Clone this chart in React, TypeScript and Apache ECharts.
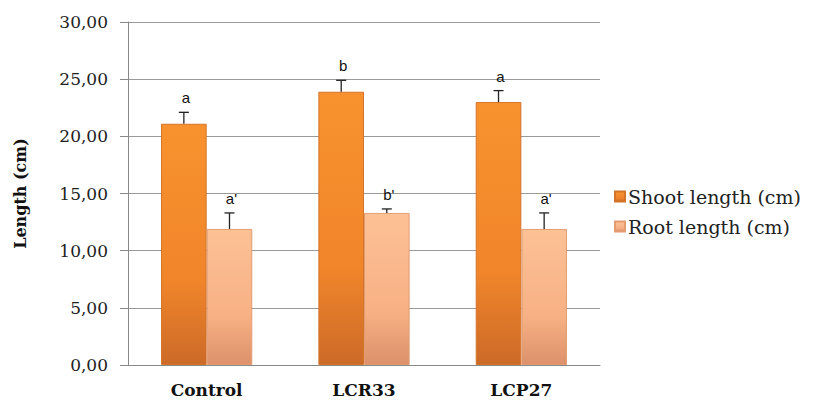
import React, { useEffect, useRef } from "react";
import * as echarts from "echarts";

const categories = ["Control", "LCR33", "LCP27"];
const shootValues = [21.1, 23.9, 23.0];
const shootErrors = [1.0, 1.0, 1.0];
const shootLetters = ["a", "b", "a"];
const rootValues = [11.9, 13.3, 11.9];
const rootErrors = [1.4, 0.35, 1.4];
const rootLetters = ["a'", "b'", "a'"];
const yTicks = [0, 5, 10, 15, 20, 25, 30];

const CAT_GAP = 0.42;

function errorSeries(name: string, values: number[], errors: number[], letters: string[], side: number) {
  return {
    type: "custom",
    name: name + "_err",
    silent: true,
    z: 5,
    data: values.map((v, i) => [i, v, v + errors[i], letters[i]]),
    renderItem: (params: any, api: any) => {
      const idx = api.value(0);
      const band = api.size([1, 0])[0];
      const barW = (band * (1 - CAT_GAP)) / 2;
      const base = api.coord([idx, api.value(1)]);
      const top = api.coord([idx, api.value(2)]);
      const x = base[0] + (side * barW) / 2;
      const cap = 5;
      return {
        type: "group",
        children: [
          { type: "line", shape: { x1: x, y1: base[1], x2: x, y2: top[1] }, style: { stroke: "#222", lineWidth: 1.3 } },
          { type: "line", shape: { x1: x - cap, y1: top[1], x2: x + cap, y2: top[1] }, style: { stroke: "#222", lineWidth: 1.3 } },
          {
            type: "text",
            style: {
              x: x + 2,
              y: top[1] - 7,
              text: letters[idx],
              fill: "#111",
              font: "15px 'Liberation Sans', Arial, sans-serif",
              align: "center",
              verticalAlign: "bottom",
            },
          },
        ],
      };
    },
  };
}

export default function App() {
  const ref = useRef<HTMLDivElement>(null);
  useEffect(() => {
    if (!ref.current) return;
    const chart = echarts.init(ref.current, undefined, { renderer: "svg" });
    const shootGrad = new echarts.graphic.LinearGradient(0, 0, 0, 1, [
      { offset: 0, color: "#F8922E" },
      { offset: 0.65, color: "#F0852A" },
      { offset: 1, color: "#CC6A28" },
    ]);
    const rootGrad = new echarts.graphic.LinearGradient(0, 0, 0, 1, [
      { offset: 0, color: "#FDC196" },
      { offset: 0.65, color: "#F7B084" },
      { offset: 1, color: "#DC916A" },
    ]);
    chart.setOption({
      animation: false,
      backgroundColor: "#fff",
      textStyle: { fontFamily: "'DejaVu Serif', serif" },
      grid: { left: 128, right: 215, top: 22, bottom: 38 },
      legend: {
        orient: "vertical",
        left: 609,
        top: 182,
        itemWidth: 10,
        itemHeight: 10,
        itemGap: 11,
        icon: "rect",
        textStyle: { fontFamily: "'DejaVu Serif', serif", fontSize: 19, color: "#222", padding: [0, 0, 0, -2] },
        data: ["Shoot length (cm)", "Root length (cm)"],
      },
      xAxis: {
        type: "category",
        data: categories,
        axisLine: { lineStyle: { color: "#888" } },
        axisTick: { show: false },
        axisLabel: { fontFamily: "'DejaVu Serif', serif", fontWeight: "bold", fontSize: 17, color: "#111", margin: 16 },
      },
      yAxis: {
        type: "value",
        min: 0,
        max: 30,
        interval: 5,
        name: "Length (cm)",
        nameLocation: "middle",
        nameGap: 100,
        nameTextStyle: { fontFamily: "'DejaVu Serif', serif", fontWeight: "bold", fontSize: 16, color: "#111" },
        axisLine: { show: true, lineStyle: { color: "#888" } },
        axisTick: { show: true, inside: false, length: 8, lineStyle: { color: "#888" } },
        splitLine: { lineStyle: { color: "#999", width: 1 } },
        axisLabel: {
          fontFamily: "'DejaVu Serif', serif",
          fontSize: 17,
          color: "#222",
          margin: 20,
          formatter: (v: number) => (yTicks.includes(v) ? v.toFixed(2).replace(".", ",") : ""),
        },
      },
      series: [
        {
          type: "bar",
          name: "Shoot length (cm)",
          data: shootValues,
          barGap: "0%",
          barCategoryGap: CAT_GAP * 100 + "%",
          itemStyle: { color: shootGrad, borderColor: "#D4742A", borderWidth: 1 },
        },
        {
          type: "bar",
          name: "Root length (cm)",
          data: rootValues,
          barGap: "0%",
          barCategoryGap: CAT_GAP * 100 + "%",
          itemStyle: { color: rootGrad, borderColor: "#E39C72", borderWidth: 1 },
        },
        errorSeries("shoot", shootValues, shootErrors, shootLetters, -1),
        errorSeries("root", rootValues, rootErrors, rootLetters, 1),
      ],
    });
    return () => chart.dispose();
  }, []);
  return <div ref={ref} style={{ width: 815, height: 403, position: "absolute", left: 0, top: 0 }} />;
}
